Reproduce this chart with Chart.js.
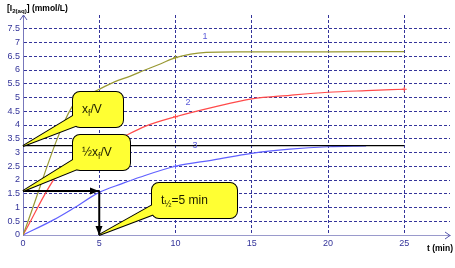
<!DOCTYPE html>
<html>
<head>
<meta charset="utf-8">
<script src="https://cdn.jsdelivr.net/npm/chart.js@4.4.0/dist/chart.umd.min.js"></script>
<style>
html, body { margin: 0; padding: 0; background: #fff; }
</style>
</head>
<body>
<canvas id="chart" width="455" height="268"></canvas>
<script>
// values
const t1 = [0, 3.2, 4, 5, 6, 7, 8, 9, 10, 11, 12, 14, 20, 25];
const curve1 = [0, 4.65, 5.0, 5.3, 5.57, 5.77, 6.0, 6.22, 6.45, 6.58, 6.64, 6.66, 6.66, 6.67];
const t2 = [0, 2.4, 3.3, 5, 6.7, 8, 10, 12.5, 15, 17.5, 20, 22.5, 25];
const curve2 = [0, 2.3, 2.55, 3.1, 3.6, 3.95, 4.3, 4.65, 4.95, 5.08, 5.19, 5.25, 5.3];
const t3 = [0, 2, 3.3, 5, 6.5, 7.65, 10, 12.5, 15, 17.5, 20, 22.5];
const curve3 = [0, 0.55, 0.97, 1.55, 1.87, 2.1, 2.5, 2.73, 2.97, 3.12, 3.21, 3.24];
const marks1 = [10];
const marks2 = [2.4, 10, 25];
const marks3 = [10];
const xfV = 3.25;       // level of x_f/V
const halfXfV = 1.6;    // level of 1/2 x_f/V
const tHalf = 5;
const tEnd = 25;
const xTicks = [0, 5, 10, 15, 20, 25];
const yTicks = [0, 0.5, 1, 1.5, 2, 2.5, 3, 3.5, 4, 4.5, 5, 5.5, 6, 6.5, 7, 7.5];

const pts = (ts, vs) => ts.map((t, i) => ({ x: t, y: vs[i] }));

// annotation layout (data units)
const curveLabels = [
    { text: '1', t: 11.95, v: 7.2 },
    { text: '2', t: 10.85, v: 4.8 },
    { text: '3', t: 11.25, v: 3.22 }
];
const callouts = [
    { parts: [['x', ''], ['f', 'sub'], ['/V', '']],
      box: [3.27, 5.2, 6.54, 3.93], tip: [0, xfV], base: [[3.5, 4.4], [4.15, 4.1]] },
    { parts: [['\u00BDx', ''], ['f', 'sub'], ['/V', '']],
      box: [3.27, 3.64, 6.99, 2.37], tip: [0, halfXfV], base: [[3.5, 2.8], [4.05, 2.5]] },
    { parts: [['t', ''], ['\u00BD', 'sub'], ['=5 min', '']],
      box: [8.43, 1.89, 14.05, 0.62], tip: [tHalf, 0], base: [[8.7, 1.18], [8.8, 0.8]] }
];

const gridColor = '#34349a';
const axisColor = '#9a9acc';
const tickColor = '#333399';

function drawRich(ctx, parts, x, y, size, weight) {
    parts.forEach(([txt, kind]) => {
        const s = kind === 'sub' ? size * 0.72 : size;
        ctx.font = weight + ' ' + s + 'px "Liberation Sans", Arial, sans-serif';
        ctx.fillText(txt, x, kind === 'sub' ? y + size * 0.28 : y);
        x += ctx.measureText(txt).width;
    });
}

function roundRectPath(ctx, l, t, r, b, rad) {
    ctx.beginPath();
    ctx.moveTo(l + rad, t);
    ctx.arcTo(r, t, r, b, rad);
    ctx.arcTo(r, b, l, b, rad);
    ctx.arcTo(l, b, l, t, rad);
    ctx.arcTo(l, t, r, t, rad);
    ctx.closePath();
}

const overlay = {
    id: 'overlay',
    afterDatasetsDraw(chart) {
        const { ctx, scales: { x, y }, chartArea: a } = chart;
        const px = (t, v) => [Math.round(x.getPixelForValue(t)), Math.round(y.getPixelForValue(v))];
        ctx.save();

        // arrow heads on the construction lines
        chart.data.datasets.forEach(ds => {
            if (!ds.arrowHead) return;
            const n = ds.data.length;
            const [x1, y1] = px(ds.data[n - 2].x, ds.data[n - 2].y);
            const [x2, y2] = px(ds.data[n - 1].x, ds.data[n - 1].y);
            const ang = Math.atan2(y2 - y1, x2 - x1);
            ctx.fillStyle = '#000';
            ctx.beginPath();
            ctx.moveTo(x2, y2);
            ctx.lineTo(x2 - 9 * Math.cos(ang) + 3.5 * Math.sin(ang), y2 - 9 * Math.sin(ang) - 3.5 * Math.cos(ang));
            ctx.lineTo(x2 - 9 * Math.cos(ang) - 3.5 * Math.sin(ang), y2 - 9 * Math.sin(ang) + 3.5 * Math.cos(ang));
            ctx.closePath();
            ctx.fill();
        });

        // axis arrows
        ctx.strokeStyle = '#5555aa';
        ctx.lineWidth = 1;
        ctx.beginPath();
        ctx.moveTo(a.left - 3, a.top + 5); ctx.lineTo(a.left + 0.5, a.top); ctx.lineTo(a.left + 4, a.top + 5);
        ctx.moveTo(a.right - 5, a.bottom - 3); ctx.lineTo(a.right, a.bottom + 0.5); ctx.lineTo(a.right - 5, a.bottom + 4);
        ctx.stroke();

        // curve numbers
        ctx.fillStyle = '#5a5ad8';
        ctx.font = '9px "Liberation Sans", Arial, sans-serif';
        ctx.textAlign = 'center';
        ctx.textBaseline = 'middle';
        curveLabels.forEach(c => {
            const [lx, ly] = px(c.t, c.v);
            ctx.fillText(c.text, lx, ly);
        });

        // callouts
        callouts.forEach(c => {
            const [l, t] = px(c.box[0], c.box[1]);
            const [r, b] = px(c.box[2], c.box[3]);
            const tip = px(c.tip[0], c.tip[1]);
            const b1 = px(c.base[0][0], c.base[0][1]);
            const b2 = px(c.base[1][0], c.base[1][1]);
            const wedge = () => {
                ctx.beginPath();
                ctx.moveTo(b1[0], b1[1]); ctx.lineTo(tip[0], tip[1]); ctx.lineTo(b2[0], b2[1]);
                ctx.closePath();
            };
            ctx.strokeStyle = '#000';
            ctx.lineWidth = 2;
            ctx.lineJoin = 'miter';
            roundRectPath(ctx, l, t, r, b, 7); ctx.stroke();
            wedge(); ctx.stroke();
            ctx.fillStyle = '#ffff33';
            roundRectPath(ctx, l, t, r, b, 7); ctx.fill();
            wedge(); ctx.fill();
            ctx.fillStyle = '#1c1c00';
            ctx.textAlign = 'left';
            ctx.textBaseline = 'alphabetic';
            drawRich(ctx, c.parts, l + 9, (t + b) / 2 + 3, 12, 'normal');
        });

        // axis titles
        ctx.fillStyle = '#000';
        drawRich(ctx, [['[I', ''], ['2(aq)', 'sub'], ['] (mmol/L)', '']], 7, 11, 8.5, 'bold');
        drawRich(ctx, [['t (min)', '']], 427, 251, 8.5, 'bold');
        ctx.restore();
    }
};

const lineDs = (data, color, marks, width) => ({
    data, borderColor: color, backgroundColor: color, borderWidth: width || 1.2,
    pointStyle: 'cross', pointBorderWidth: 1,
    pointRadius: c => (marks.includes(c.raw && c.raw.x) ? 2.5 : 0),
    cubicInterpolationMode: 'monotone', fill: false
});

new Chart(document.getElementById('chart'), {
    type: 'line',
    data: {
        datasets: [
            Object.assign(lineDs([{ x: 0, y: halfXfV }, { x: tHalf, y: halfXfV }], '#000', [], 2), { arrowHead: true }),
            Object.assign(lineDs([{ x: tHalf, y: halfXfV }, { x: tHalf, y: 0 }], '#000', [], 2), { arrowHead: true }),
            lineDs([{ x: 0, y: xfV }, { x: tEnd, y: xfV }], '#000', [], 1.3),
            lineDs(pts(t1, curve1), '#999933', marks1),
            lineDs(pts(t2, curve2), '#ff4a4a', marks2),
            lineDs(pts(t3, curve3), '#6060ff', marks3)
        ]
    },
    options: {
        responsive: false,
        devicePixelRatio: 1,
        animation: false,
        layout: { padding: { top: 15, right: 3, left: 0, bottom: 0 } },
        plugins: { legend: { display: false }, tooltip: { enabled: false } },
        scales: {
            x: {
                type: 'linear', min: 0, max: 28,
                afterBuildTicks: s => { s.ticks = xTicks.map(v => ({ value: v })); },
                afterFit: s => { s.height = 33; },
                grid: { color: c => (c.tick && c.tick.value === 0 ? 'rgba(0,0,0,0)' : gridColor), drawTicks: false },
                border: { color: axisColor, width: 1, dash: [3, 2] },
                ticks: { color: tickColor, padding: 3, maxRotation: 0, autoSkip: false,
                         font: { family: '"Liberation Sans", Arial, sans-serif', size: 9 },
                         callback: v => String(v) }
            },
            y: {
                type: 'linear', min: 0, max: 8,
                afterBuildTicks: s => { s.ticks = yTicks.map(v => ({ value: v })); },
                afterFit: s => { s.width = 23; },
                grid: { color: c => (c.tick && c.tick.value === 0 ? 'rgba(0,0,0,0)' : gridColor), drawTicks: false },
                border: { color: '#7777bb', width: 1, dash: [3, 2] },
                ticks: { color: tickColor, padding: 3, autoSkip: false,
                         font: { family: '"Liberation Sans", Arial, sans-serif', size: 9 },
                         callback: v => String(v) }
            }
        }
    },
    plugins: [overlay]
});
</script>
</body>
</html>
